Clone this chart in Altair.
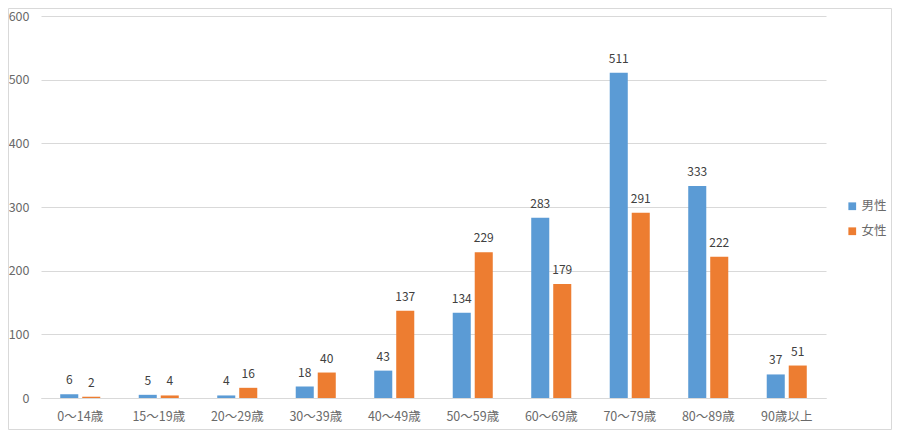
import altair as alt
import pandas as pd

categories = ["0〜14歳", "15〜19歳", "20〜29歳", "30〜39歳", "40〜49歳",
              "50〜59歳", "60〜69歳", "70〜79歳", "80〜89歳", "90歳以上"]
male = [6, 5, 4, 18, 43, 134, 283, 511, 333, 37]
female = [2, 4, 16, 40, 137, 229, 179, 291, 222, 51]
series = ["男性", "女性"]
colors = ["#5B9BD5", "#ED7D31"]

rows = []
for c, m, f in zip(categories, male, female):
    rows.append({"age": c, "sex": series[0], "value": m})
    rows.append({"age": c, "sex": series[1], "value": f})
df = pd.DataFrame(rows)

FONT = "Noto Sans CJK JP"
W, H = 785, 382

x = alt.X("age:N", sort=categories, title=None,
          scale=alt.Scale(paddingInner=0.49, paddingOuter=0.245),
          axis=alt.Axis(labelAngle=0, ticks=False, domainColor="#d9d9d9",
                        labelColor="#6a6a6a", labelFontSize=12.5, labelFont=FONT,
                        labelPadding=12, grid=False))
y = alt.Y("value:Q", title=None,
          scale=alt.Scale(domain=[0, 600], nice=False),
          axis=alt.Axis(values=[0, 100, 200, 300, 400, 500, 600], ticks=False,
                        domain=False, gridColor="#d9d9d9", labelColor="#6a6a6a",
                        labelFontSize=12.5, labelFont=FONT, labelPadding=12))
xo = alt.XOffset("sex:N", sort=series,
                 scale=alt.Scale(paddingInner=0.18, paddingOuter=0))

bars = alt.Chart(df).mark_bar().encode(
    x=x, y=y, xOffset=xo,
    color=alt.Color("sex:N", sort=series,
                    scale=alt.Scale(domain=series, range=colors),
                    legend=alt.Legend(title=None, orient="none", legendX=805,
                                      legendY=184, symbolType="square",
                                      symbolSize=60, symbolStrokeWidth=0,
                                      labelFont=FONT, labelFontSize=12.5,
                                      labelColor="#6a6a6a", rowPadding=12,
                                      labelOffset=3)),
)

labels = alt.Chart(df).mark_text(
    baseline="bottom", dy=-7, font=FONT, fontSize=12, color="#404040"
).encode(x=x, y=y, xOffset=xo, text=alt.Text("value:Q"))

one = pd.DataFrame({"k": [0]})
L, R, T, B = -32.5, W + 65.5, -7.5, H + 31.5
border = alt.Chart(one).mark_rect(
    fill="transparent", stroke="#d9d9d9", strokeWidth=1
).encode(x=alt.value(L), x2=alt.value(R), y=alt.value(T), y2=alt.value(B))

chart = alt.layer(border, bars, labels).properties(
    width=W, height=H,
    padding={"left": 33, "top": 8, "right": 66, "bottom": 32},
    autosize=alt.AutoSizeParams(type="none"),
    view=alt.ViewBackground(stroke="transparent", strokeWidth=0),
).configure_view(stroke="transparent", strokeWidth=0).configure(background="white")

chart.save("out.html", embed_options={"renderer": "svg", "actions": False})
